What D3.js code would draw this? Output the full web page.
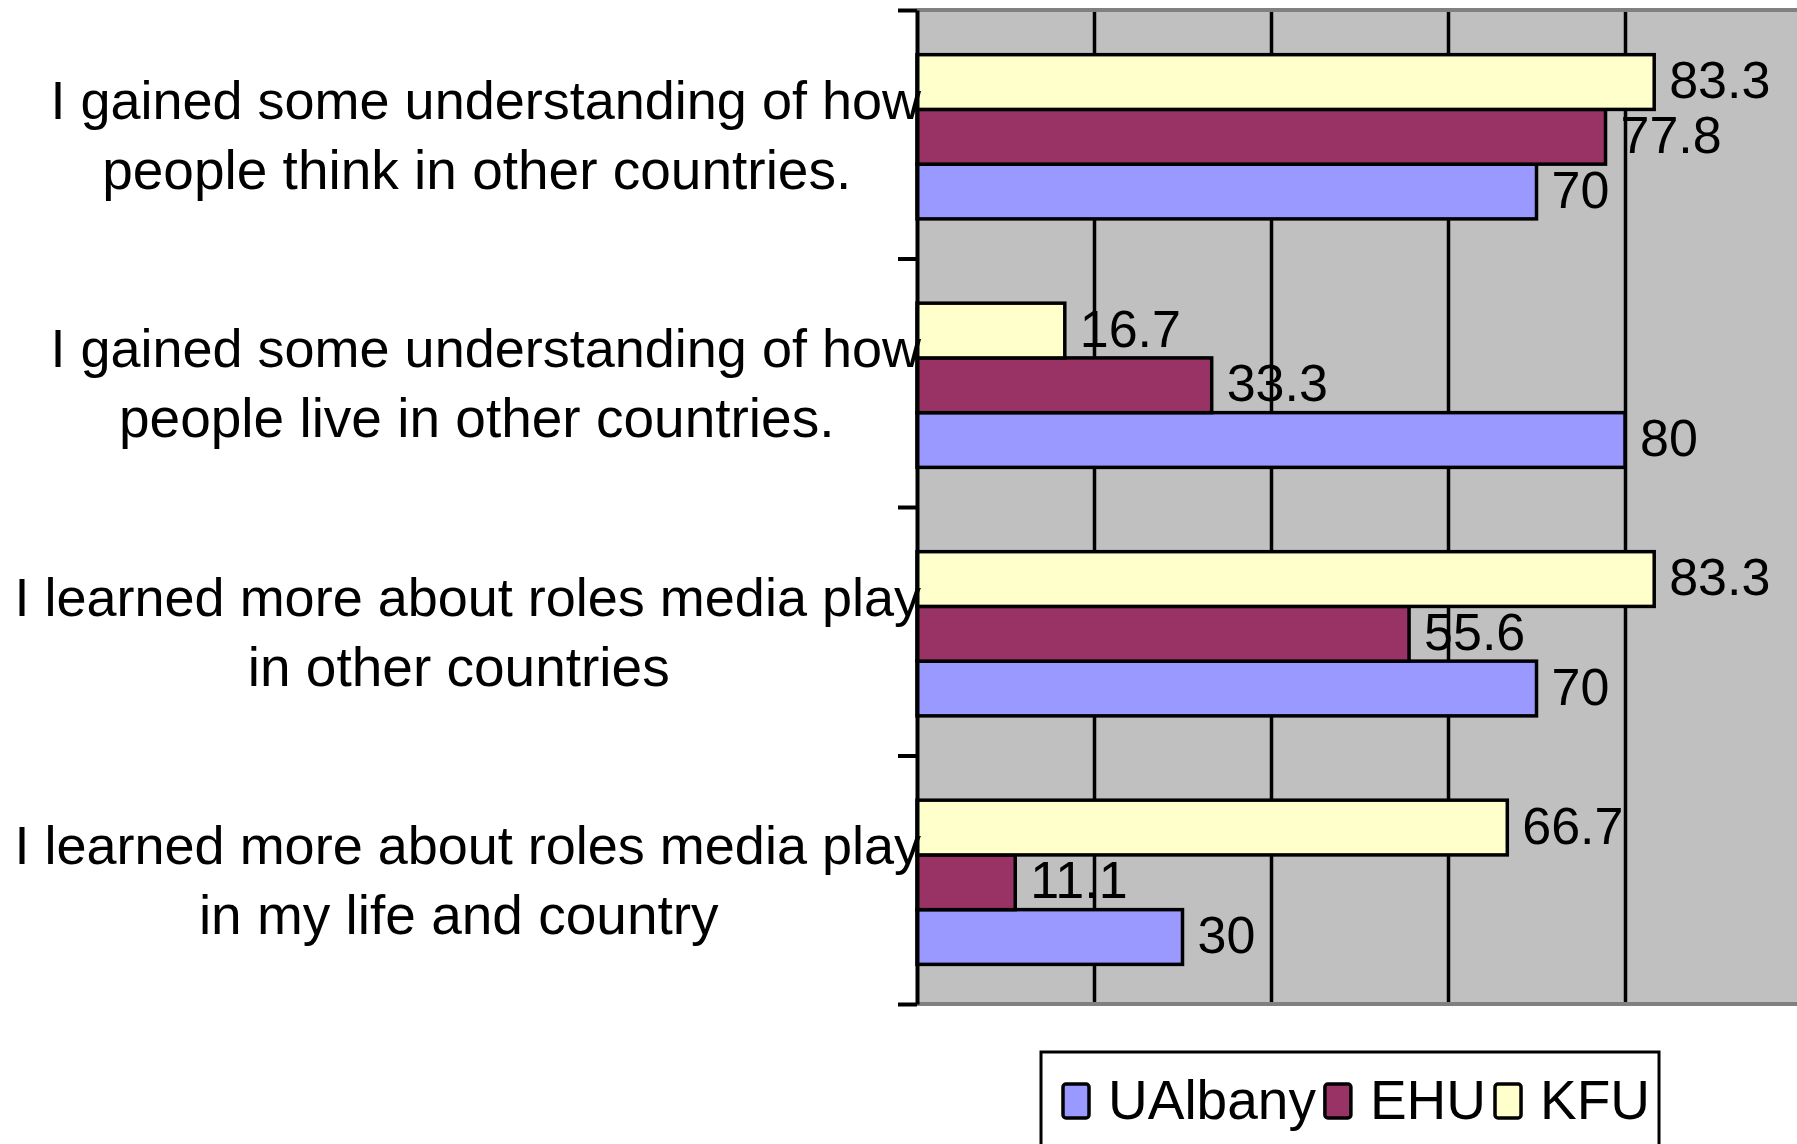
<!DOCTYPE html>
<html>
<head>
<meta charset="utf-8">
<script src="https://cdn.jsdelivr.net/npm/d3@7"></script>
<style>
  body { margin: 0; background: #fff; }
  text { font-family: "Liberation Sans", Arial, sans-serif; fill: #000; }
</style>
</head>
<body>
<div id="chart"></div>
<script>
// data
var categories = [
  ["I gained some understanding of how", "people think in other countries."],
  ["I gained some understanding of how", "people live in other countries."],
  ["I learned more about roles media play", "in other countries"],
  ["I learned more about roles media play", "in my life and country"]
];
var seriesNames = ["UAlbany", "EHU", "KFU"];
var uAlbany = [70, 80, 70, 30];
var ehu = [77.8, 33.3, 55.6, 11.1];
var kfu = [83.3, 16.7, 83.3, 66.7];
var xTicks = [20, 40, 60, 80, 100];

var colors = { "UAlbany": "#9999FF", "EHU": "#993366", "KFU": "#FFFFCC" };
var values = { "UAlbany": uAlbany, "EHU": ehu, "KFU": kfu };

var svgWidth = 1797;
var svgHeight = 1144;

var plot = { left: 917, top: 10, bottom: 1004 };

var svg = d3.select("#chart")
  .append("svg")
  .attr("width", svgWidth)
  .attr("height", svgHeight);

// scales
var xScale = d3.scaleLinear()
  .domain([0, 100])
  .range([plot.left, plot.left + 885]);

var yScale = d3.scaleBand()
  .domain(d3.range(categories.length))
  .range([plot.top, plot.bottom])
  .padding(0);

// bars in each group go KFU, EHU, UAlbany from the top
var inner = d3.scaleBand()
  .domain(["KFU", "EHU", "UAlbany"])
  .range([0, yScale.bandwidth()])
  .paddingInner(0)
  .paddingOuter(0.77)
  .align(0.53);

var edgeScale = d3.scaleLinear()
  .domain([0, categories.length])
  .range([plot.top, plot.bottom]);

// plot background
svg.append("rect")
  .attr("x", plot.left)
  .attr("y", plot.top)
  .attr("width", svgWidth - plot.left)
  .attr("height", plot.bottom - plot.top)
  .attr("fill", "#C0C0C0");

// gridlines
var grid = svg.append("g")
  .attr("class", "grid")
  .attr("transform", `translate(0, ${plot.bottom})`)
  .call(d3.axisBottom(xScale)
    .tickValues(xTicks)
    .tickSize(-(plot.bottom - plot.top))
    .tickFormat(""));
grid.select(".domain").remove();
grid.selectAll("line").attr("stroke", "#000").attr("stroke-width", 3.5);

// top / bottom border
svg.append("line")
  .attr("x1", plot.left).attr("x2", svgWidth)
  .attr("y1", plot.top).attr("y2", plot.top)
  .attr("stroke", "#808080").attr("stroke-width", 4);
svg.append("line")
  .attr("x1", plot.left).attr("x2", svgWidth)
  .attr("y1", plot.bottom).attr("y2", plot.bottom)
  .attr("stroke", "#808080").attr("stroke-width", 4);

// bars
var rows = [];
categories.forEach(function(c, i) {
  seriesNames.forEach(function(s) {
    rows.push({ cat: i, series: s, value: values[s][i] });
  });
});

var barGroup = svg.append("g");

barGroup.selectAll("rect")
  .data(rows)
  .enter()
  .append("rect")
  .attr("x", xScale(0))
  .attr("y", d => yScale(d.cat) + inner(d.series))
  .attr("width", d => xScale(d.value) - xScale(0))
  .attr("height", inner.bandwidth())
  .attr("fill", d => colors[d.series])
  .attr("stroke", "#000")
  .attr("stroke-width", 3.5);

barGroup.selectAll("text")
  .data(rows)
  .enter()
  .append("text")
  .attr("x", d => xScale(d.value) + 15)
  .attr("y", d => yScale(d.cat) + inner(d.series) + inner.bandwidth() / 2)
  .attr("dy", "0.31em")
  .attr("font-size", 52)
  .text(d => d.value);

// left axis with ticks between categories
var yAxis = svg.append("g")
  .attr("transform", `translate(${plot.left}, 0)`)
  .call(d3.axisLeft(edgeScale)
    .ticks(categories.length)
    .tickSize(19)
    .tickSizeOuter(0)
    .tickFormat(""));
yAxis.select(".domain").attr("stroke", "#000").attr("stroke-width", 4);
yAxis.selectAll("line").attr("stroke", "#000").attr("stroke-width", 4);

// category labels, two lines each
var labelGroup = svg.append("g");
categories.forEach(function(lines, i) {
  var center = yScale(i) + yScale.bandwidth() / 2;
  var lineHeight = 70;
  var first = labelGroup.append("text")
    .attr("font-size", 54)
    .attr("text-anchor", "end")
    .attr("x", 921)
    .attr("y", center - lineHeight / 2 + 19.5)
    .text(lines[0]);
  var w = first.node().getComputedTextLength();
  var mid = 921 - w / 2;
  first.attr("text-anchor", "middle").attr("x", mid);
  labelGroup.append("text")
    .attr("font-size", 55)
    .attr("text-anchor", "middle")
    .attr("x", mid - 9)
    .attr("y", center + lineHeight / 2 + 19.5)
    .text(lines[1]);
});

// legend
var legend = svg.append("g");
var legendBox = legend.append("rect")
  .attr("x", 1041)
  .attr("y", 1052)
  .attr("height", 120)
  .attr("fill", "#fff")
  .attr("stroke", "#000")
  .attr("stroke-width", 3);

var lx = 1063;
seriesNames.forEach(function(s) {
  legend.append("rect")
    .attr("x", lx)
    .attr("y", 1084)
    .attr("width", 26)
    .attr("height", 34)
    .attr("rx", 3)
    .attr("fill", colors[s])
    .attr("stroke", "#000")
    .attr("stroke-width", 3.5);
  var t = legend.append("text")
    .attr("x", lx + 45)
    .attr("y", 1119)
    .attr("font-size", 55)
    .text(s);
  lx = lx + 45 + t.node().getComputedTextLength() + 9;
});
legendBox.attr("width", lx - 1041);
</script>
</body>
</html>
